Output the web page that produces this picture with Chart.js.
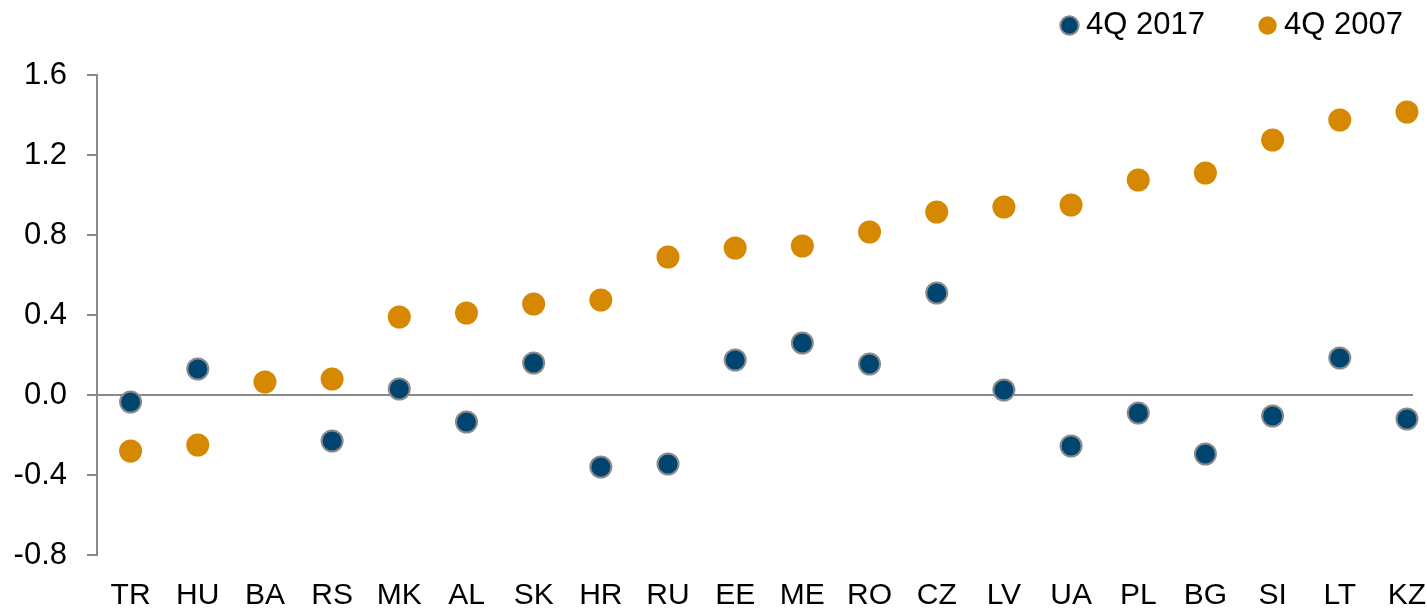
<!DOCTYPE html>
<html>
<head>
<meta charset="utf-8">
<script src="https://cdn.jsdelivr.net/npm/chart.js@4.4.1/dist/chart.umd.min.js"></script>
<style>
  html, body { margin: 0; padding: 0; background: #fff; overflow: hidden; }
</style>
</head>
<body>
<canvas id="gapChart" width="1427" height="608"></canvas>
<script>
// countries on the x axis
const countries = ['TR', 'HU', 'BA', 'RS', 'MK', 'AL', 'SK', 'HR', 'RU', 'EE',
                   'ME', 'RO', 'CZ', 'LV', 'UA', 'PL', 'BG', 'SI', 'LT', 'KZ'];

// 4Q 2017 values (no value for BA)
const q2017 = [-0.035, 0.13, null, -0.23, 0.03, -0.135, 0.16, -0.36, -0.345, 0.175,
               0.26, 0.155, 0.51, 0.025, -0.255, -0.09, -0.295, -0.105, 0.185, -0.12];

// 4Q 2007 values
const q2007 = [-0.28, -0.25, 0.065, 0.08, 0.39, 0.41, 0.455, 0.475, 0.69, 0.735,
               0.745, 0.815, 0.915, 0.94, 0.95, 1.075, 1.11, 1.275, 1.375, 1.415];

// y axis ticks
const yTicks = [-0.8, -0.4, 0.0, 0.4, 0.8, 1.2, 1.6];

const AXIS_GREY = '#8a8a8a';
const FONT = '"Liberation Sans", Arial, sans-serif';

/**
 * Turn a value list into scatter points on the country index.
 * @param {Array} values
 * */
const toPoints = function (values) {
    return values.map((v, i) => ({ x: i, y: v }));
}

// force the legend band to a fixed height so the plot starts where it should
const legendBand = {
    id: 'legendBand',
    beforeInit(chart) {
        const fit = chart.legend.fit;
        chart.legend.fit = function () {
            fit.bind(chart.legend)();
            this.height = 75;
        }
    }
};

const ctx = document.getElementById('gapChart');
new Chart(ctx, {
    type: 'scatter',
    data: {
        datasets: [
            {
                label: '4Q 2017',
                data: toPoints(q2017),
                backgroundColor: '#004570',
                borderColor: AXIS_GREY,
                borderWidth: 2,
                pointRadius: 10.5,
                pointHoverRadius: 10.5,
                clip: false,
            },
            {
                label: '4Q 2007',
                data: toPoints(q2007),
                backgroundColor: '#d68900',
                borderColor: '#d68900',
                borderWidth: 0,
                pointRadius: 11.5,
                pointHoverRadius: 11.5,
                clip: false,
            }
        ]
    },
    options: {
        responsive: false,
        animation: false,
        devicePixelRatio: 1,
        layout: {
            padding: { top: 0, right: 14, bottom: 0, left: 0 }
        },
        plugins: {
            tooltip: { enabled: false },
            legend: {
                display: true,
                position: 'top',
                align: 'end',
                labels: {
                    usePointStyle: true,
                    pointStyle: 'circle',
                    boxWidth: 2,
                    boxHeight: 13,
                    padding: 10,
                    color: '#000',
                    font: { family: FONT, size: 31 },
                    // push the second entry over to where it sits in the original
                    generateLabels(chart) {
                        const items = Chart.defaults.plugins.legend.labels.generateLabels(chart);
                        items[0].text = items[0].text + '      ';
                        return items;
                    }
                }
            }
        },
        scales: {
            x: {
                type: 'linear',
                min: -0.5,
                max: 19.09,
                afterFit(scale) {
                    scale.height = 53;
                    scale.paddingLeft = 0;
                    scale.paddingRight = 0;
                },
                grid: { display: false, drawTicks: false },
                border: { display: false },
                ticks: {
                    stepSize: 1,
                    includeBounds: false,
                    autoSkip: false,
                    maxRotation: 0,
                    padding: 23,
                    color: '#000',
                    font: { family: FONT, size: 30 },
                    callback: (v) => countries[v] ?? ''
                }
            },
            y: {
                min: yTicks[0],
                max: yTicks[yTicks.length - 1],
                afterFit(scale) { scale.width = 97; },
                afterBuildTicks(scale) { scale.ticks = yTicks.map(v => ({ value: v })); },
                grid: {
                    color: (c) => (c.tick && c.tick.value === 0 ? AXIS_GREY : 'rgba(0,0,0,0)'),
                    tickColor: AXIS_GREY,
                    lineWidth: 2,
                    tickLength: 10,
                    drawTicks: true,
                },
                border: { display: true, color: AXIS_GREY, width: 2 },
                ticks: {
                    padding: 20,
                    color: '#000',
                    font: { family: FONT, size: 31 },
                    callback: (v) => Number(v).toFixed(1)
                }
            }
        }
    },
    plugins: [legendBand]
});
</script>
</body>
</html>
